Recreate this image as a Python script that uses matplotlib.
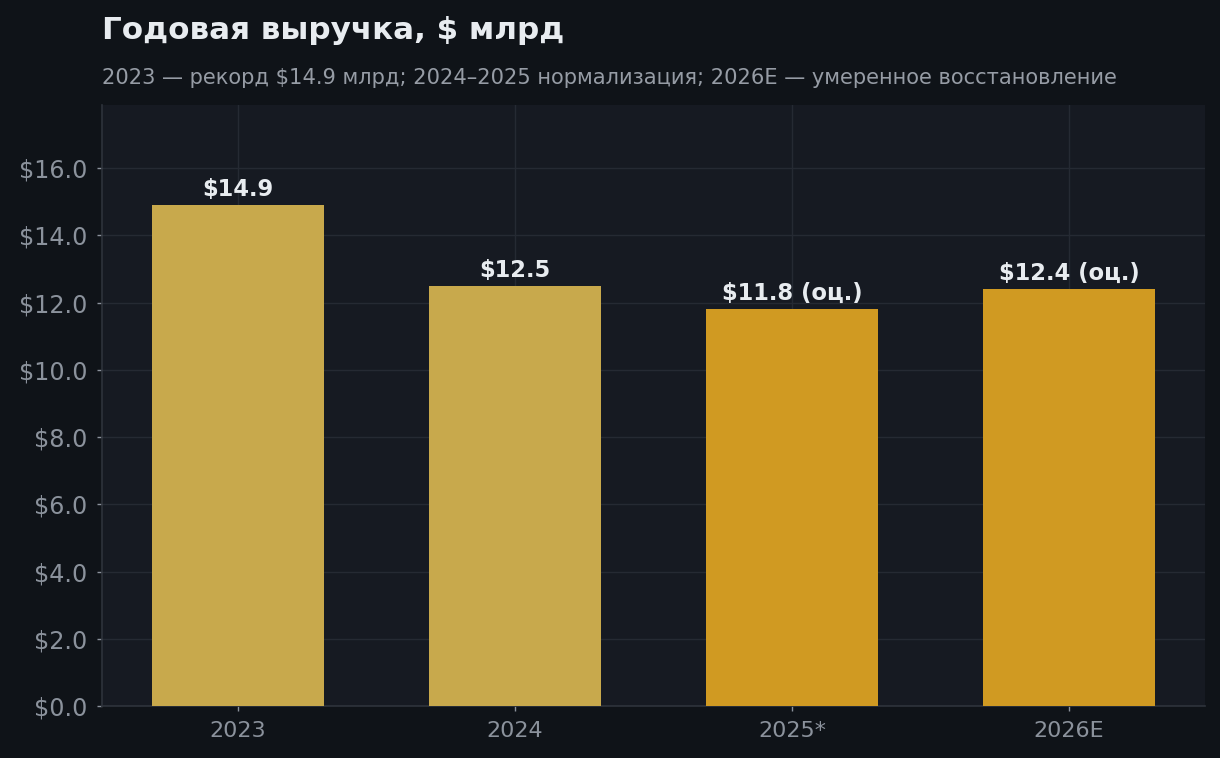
import matplotlib
matplotlib.use("Agg")
import matplotlib.pyplot as plt

categories = ["2023", "2024", "2025*", "2026E"]
values = [14.9, 12.5, 11.8, 12.4]
labels = ["$14.9", "$12.5", "$11.8 (оц.)", "$12.4 (оц.)"]
colors = ["#c8a94c", "#c8a94c", "#d09a22", "#d09a22"]
title = "Годовая выручка, $ млрд"
subtitle = "2023 — рекорд $14.9 млрд; 2024–2025 нормализация; 2026E — умеренное восстановление"

plt.rcParams['font.family'] = ['DejaVu Sans']
fig = plt.figure(figsize=(12.2, 7.58), dpi=100, facecolor="#0f1318")
ax = fig.add_axes([0.0836, 0.0686, 0.9041, 0.7929])
ax.set_facecolor("#161a22")

x = list(range(len(categories)))
bars = ax.bar(x, values, width=0.62, color=colors, zorder=3)
ax.set_ylim(0, max(values) * 1.2)
ax.set_xticks(x)
ax.set_xticklabels(categories)
ax.yaxis.set_major_formatter(matplotlib.ticker.FuncFormatter(lambda v, p: f"${v:.1f}"))
ax.set_yticks([0, 2, 4, 6, 8, 10, 12, 14, 16])

ax.grid(True, color="#252a33", linewidth=1.0, zorder=0)
ax.set_axisbelow(True)
for s in ["top", "right"]:
    ax.spines[s].set_visible(False)
for s in ["left", "bottom"]:
    ax.spines[s].set_color("#2e333b")
    ax.spines[s].set_linewidth(1.2)
ax.tick_params(colors="#8b929c", labelsize=16, length=3.5, width=1, pad=7.5)
ax.tick_params(axis="y", labelsize=17.2, pad=7)

for b, lab in zip(bars, labels):
    ax.annotate(lab, (b.get_x() + b.get_width() / 2, b.get_height()),
                xytext=(0, 3), textcoords="offset points", ha="center", va="bottom",
                fontsize=16.3, fontweight="bold", color="#e8ecf0", zorder=4)

fig.text(102 / 1220, 1 - 39 / 758, title, fontsize=22.3, fontweight="bold",
         color="#e8ecf0", ha="left", va="baseline")
fig.text(102 / 1220, 1 - 84 / 758, subtitle, fontsize=15.1,
         color="#969ca5", ha="left", va="baseline")

fig.savefig("out.png", dpi=100, facecolor=fig.get_facecolor())
